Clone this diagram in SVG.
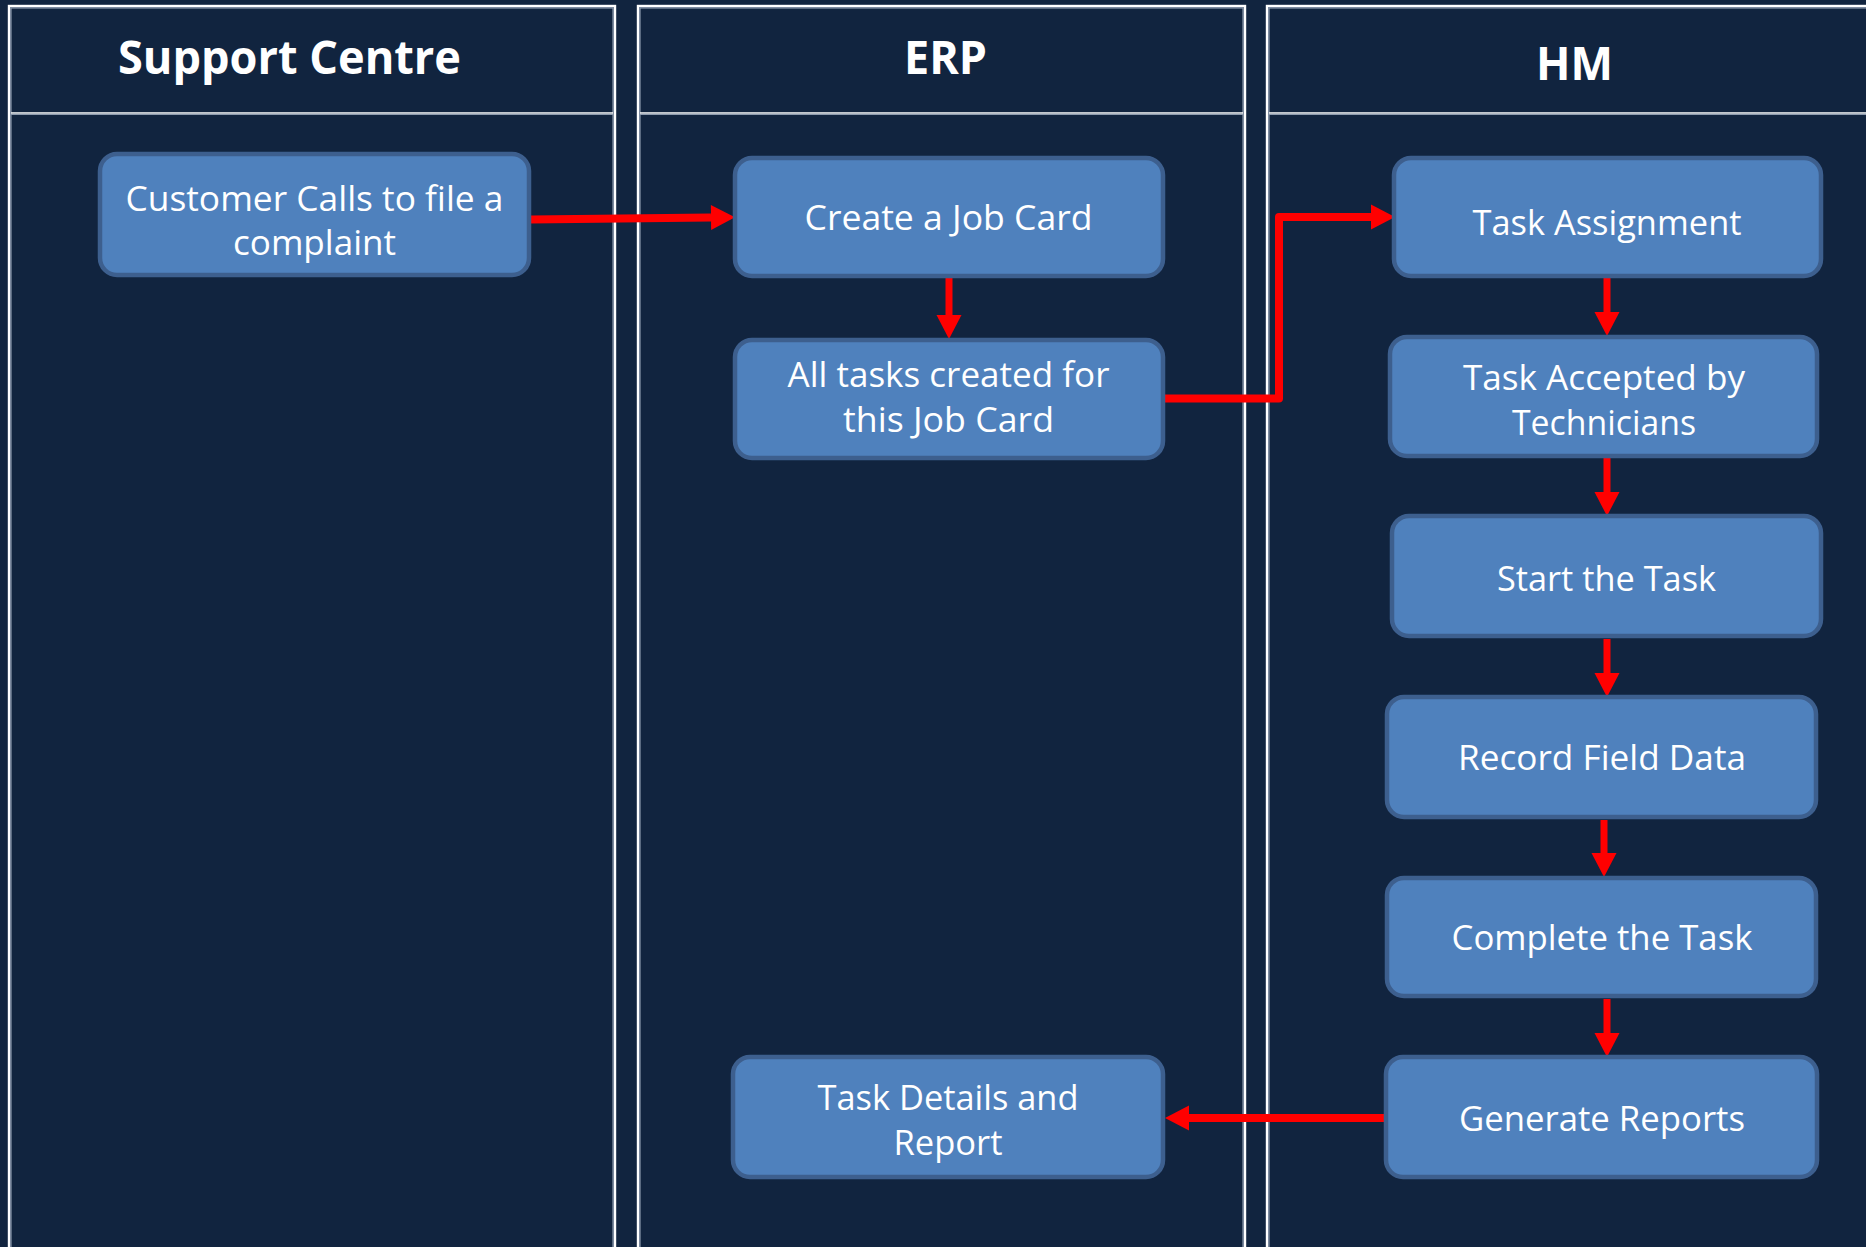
<svg xmlns="http://www.w3.org/2000/svg" width="1866" height="1247" viewBox="0 0 1866 1247">
  <defs>
    <style>
      .bg { fill: #11243F; }
      .lane-out { fill: none; stroke: #FFFFFF; stroke-width: 2.4; }
      .lane-in { fill: none; stroke: #8E9BAE; stroke-width: 1.4; }
      .hdr-line { stroke: #FFFFFF; stroke-width: 1.6; }
      .hdr-line2 { stroke: #8E9BAE; stroke-width: 1.2; }
      .title { font-family: "Open Sans", "Noto Sans", "DejaVu Sans", sans-serif; font-weight: 700; font-size: 47px; fill: #FFFFFF; text-anchor: middle; }
      .box { fill: #4F81BD; stroke: #3D5F8E; stroke-width: 4.5; }
      .label { font-family: "Open Sans", "Noto Sans", "DejaVu Sans", sans-serif; font-size: 35px; fill: #FFFFFF; text-anchor: middle; }
      .flow { fill: none; stroke: #FF0000; stroke-linejoin: round; marker-end: url(#head); }
      .h { stroke-width: 8; }
      .v { stroke-width: 7; }
    </style>
    <marker id="head" markerUnits="userSpaceOnUse" viewBox="0 -13 25 26" refX="0" refY="0" markerWidth="25" markerHeight="26" orient="auto" overflow="visible">
      <path d="M0,-12.5 L24,0 L0,12.5 z" fill="#FF0000"/>
    </marker>
  </defs>

  <rect class="bg" x="0" y="0" width="1866" height="1247"/>

  <!-- swimlanes -->
  <g id="lane-support">
    <rect class="lane-out" x="9" y="6" width="606" height="1300"/>
    <rect class="lane-in" x="10.9" y="7.9" width="602.2" height="1300"/>
    <line class="hdr-line" x1="11" y1="113" x2="613" y2="113"/>
    <line class="hdr-line2" x1="11" y1="114.4" x2="613" y2="114.4"/>
    <text class="title" x="289.5" y="74" textLength="343" lengthAdjust="spacingAndGlyphs">Support Centre</text>
  </g>
  <g id="lane-erp">
    <rect class="lane-out" x="638" y="6" width="607" height="1300"/>
    <rect class="lane-in" x="639.9" y="7.9" width="603.2" height="1300"/>
    <line class="hdr-line" x1="640" y1="113" x2="1243" y2="113"/>
    <line class="hdr-line2" x1="640" y1="114.4" x2="1243" y2="114.4"/>
    <text class="title" x="945.5" y="74" textLength="83" lengthAdjust="spacingAndGlyphs">ERP</text>
  </g>
  <g id="lane-hm">
    <rect class="lane-out" x="1267" y="6" width="700" height="1300"/>
    <rect class="lane-in" x="1268.9" y="7.9" width="700" height="1300"/>
    <line class="hdr-line" x1="1269" y1="113" x2="1866" y2="113"/>
    <line class="hdr-line2" x1="1269" y1="114.4" x2="1866" y2="114.4"/>
    <text class="title" x="1574.5" y="80" textLength="77" lengthAdjust="spacingAndGlyphs">HM</text>
  </g>

  <!-- connectors -->
  <g id="connectors">
    <path class="flow h" d="M531,219.5 L711,217.5"/>
    <path class="flow v" d="M949,278 V315"/>
    <path class="flow h" d="M1165,398.5 H1279 V217 H1371"/>
    <path class="flow v" d="M1607,278 V312"/>
    <path class="flow v" d="M1607,458 V492"/>
    <path class="flow v" d="M1607,639 V673"/>
    <path class="flow v" d="M1604,820 V853"/>
    <path class="flow v" d="M1607,999 V1033"/>
    <path class="flow h" d="M1386,1118 H1189"/>
  </g>

  <!-- process steps -->
  <g id="customer-calls">
    <rect class="box" x="100" y="154" width="429" height="121" rx="17"/>
    <text class="label" x="314.5" y="211" textLength="378" lengthAdjust="spacingAndGlyphs">Customer Calls to file a</text>
    <text class="label" x="314.5" y="255" textLength="163" lengthAdjust="spacingAndGlyphs">complaint</text>
  </g>
  <g id="create-job-card">
    <rect class="box" x="735" y="158" width="428" height="118" rx="17"/>
    <text class="label" x="948.5" y="230" textLength="288" lengthAdjust="spacingAndGlyphs">Create a Job Card</text>
  </g>
  <g id="tasks-created">
    <rect class="box" x="735" y="340" width="428" height="118" rx="17"/>
    <text class="label" x="948.5" y="387" textLength="322" lengthAdjust="spacingAndGlyphs">All tasks created for</text>
    <text class="label" x="948.5" y="432" textLength="211" lengthAdjust="spacingAndGlyphs">this Job Card</text>
  </g>
  <g id="task-assignment">
    <rect class="box" x="1394" y="158" width="427" height="118" rx="17"/>
    <text class="label" x="1607" y="235" textLength="269" lengthAdjust="spacingAndGlyphs">Task Assignment</text>
  </g>
  <g id="task-accepted">
    <rect class="box" x="1390" y="337" width="427" height="119" rx="17"/>
    <text class="label" x="1604" y="390" textLength="282" lengthAdjust="spacingAndGlyphs">Task Accepted by</text>
    <text class="label" x="1604" y="435" textLength="184" lengthAdjust="spacingAndGlyphs">Technicians</text>
  </g>
  <g id="start-task">
    <rect class="box" x="1392" y="516" width="429" height="120" rx="17"/>
    <text class="label" x="1606.5" y="591" textLength="219" lengthAdjust="spacingAndGlyphs">Start the Task</text>
  </g>
  <g id="record-field-data">
    <rect class="box" x="1387" y="697" width="429" height="120" rx="17"/>
    <text class="label" x="1602" y="770" textLength="288" lengthAdjust="spacingAndGlyphs">Record Field Data</text>
  </g>
  <g id="complete-task">
    <rect class="box" x="1387" y="878" width="429" height="118" rx="17"/>
    <text class="label" x="1602" y="950" textLength="301" lengthAdjust="spacingAndGlyphs">Complete the Task</text>
  </g>
  <g id="generate-reports">
    <rect class="box" x="1386" y="1057" width="431" height="120" rx="17"/>
    <text class="label" x="1602" y="1131" textLength="286" lengthAdjust="spacingAndGlyphs">Generate Reports</text>
  </g>
  <g id="task-details-report">
    <rect class="box" x="733" y="1057" width="430" height="120" rx="17"/>
    <text class="label" x="948" y="1110" textLength="261" lengthAdjust="spacingAndGlyphs">Task Details and</text>
    <text class="label" x="948" y="1155" textLength="109" lengthAdjust="spacingAndGlyphs">Report</text>
  </g>
</svg>
